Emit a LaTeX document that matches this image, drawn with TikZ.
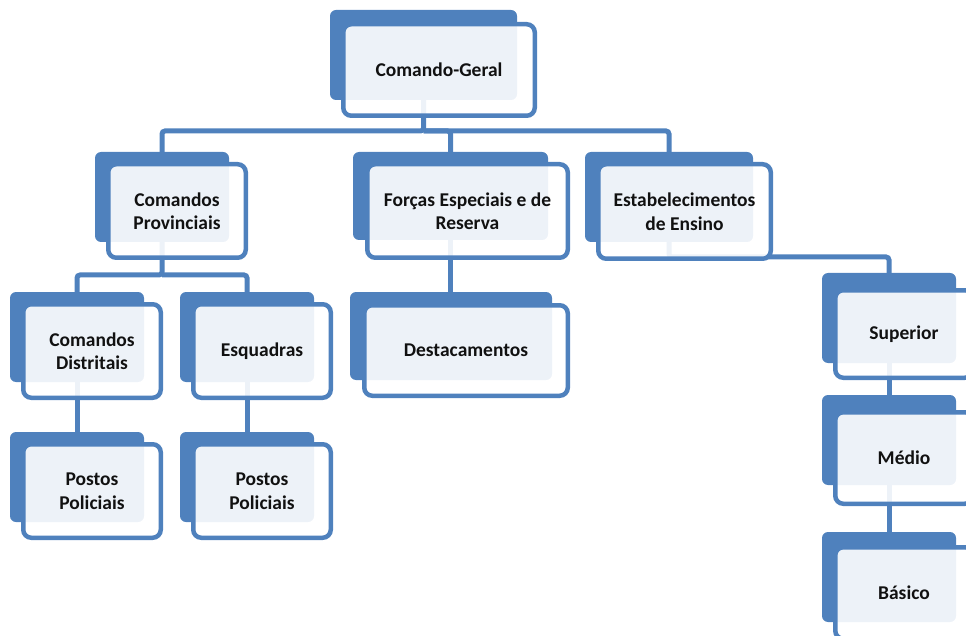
\documentclass[tikz,border=0pt]{standalone}
\usepackage{fontspec}
\setmainfont{Carlito}
\definecolor{ob}{HTML}{4F81BD}
\definecolor{tx}{HTML}{111111}
\pgfdeclarelayer{bg}
\pgfsetlayers{bg,main}
\begin{document}
\begin{tikzpicture}[x=1pt,y=-1pt,
  conn/.style={draw=ob, line width=5pt, rounded corners=3pt},
  backbox/.style={rectangle, fill=ob, rounded corners=6pt, inner sep=0pt},
  frontbox/.style={rectangle, draw=ob, line width=4.5pt, fill=white, fill opacity=0.9, draw opacity=1, text opacity=1, rounded corners=8pt, inner sep=0pt, align=center, text=tx, font=\bfseries\fontsize{19.5}{23.5}\selectfont},
  sback/.style={backbox, minimum width=134pt, minimum height=90pt},
  sfront/.style={frontbox, minimum width=137.5pt, minimum height=93.5pt}
]
\useasboundingbox (0,0) rectangle (966,636);
\clip (0,0) rectangle (966,636);

% Comando-Geral
\node[backbox, minimum width=187pt, minimum height=90pt] (cgB) at (423.5,55) {};
\node[frontbox, minimum width=191.5pt, minimum height=91.5pt] (cg) at (439,70) {Comando-Geral};

% Comandos Provinciais
\node[sback] (cpB) at (162,197) {};
\node[sfront] (cp) at (177,211) {Comandos\\Provinciais};

% Forcas Especiais
\node[backbox, minimum width=195pt, minimum height=88pt] (fsB) at (450.5,196) {};
\node[frontbox, minimum width=200.5pt, minimum height=93.5pt] (fs) at (467.5,211) {Forças Especiais e de\\Reserva};

% Estabelecimentos
\node[backbox, minimum width=168pt, minimum height=90pt] (esB) at (669,197) {};
\node[frontbox, minimum width=172.5pt, minimum height=94.5pt] (es) at (684.5,211.5) {Estabelecimentos\\de Ensino};

% Comandos Distritais
\node[sback] (cdB) at (77,337) {};
\node[sfront] (cd) at (92,351) {Comandos\\Distritais};

% Esquadras
\node[sback] (eqB) at (247,337) {};
\node[sfront] (eq) at (262,351) {Esquadras};

% Postos Policiais
\node[sback] (p1B) at (77,477) {};
\node[sfront] (p1) at (92,491) {Postos\\Policiais};
\node[sback] (p2B) at (247,477) {};
\node[sfront] (p2) at (262,491) {Postos\\Policiais};

% Destacamentos
\node[backbox, minimum width=202pt, minimum height=88pt] (dtB) at (451,336) {};
\node[frontbox, minimum width=203.5pt, minimum height=90.5pt] (dt) at (466,350.5) {Destacamentos};

% Superior, Medio, Basico
\node[sback] (suB) at (889,318) {};
\node[frontbox, minimum width=137.5pt, minimum height=87.5pt] (su) at (904,334) {Superior};
\node[sback] (meB) at (889,440) {};
\node[frontbox, minimum width=137.5pt, minimum height=91.5pt] (me) at (904,458) {Médio};
\node[sback] (baB) at (889,577) {};
\node[frontbox, minimum width=137.5pt, minimum height=91.5pt] (ba) at (904,593) {Básico};

% connectors
\coordinate (b1) at (423.5,131);
\coordinate (b2) at (162,275);
\coordinate (b3) at (669,257);
\begin{pgfonlayer}{bg}
\draw[conn] (cgB.center) -- (b1) -| (cpB.center);
\draw[conn] (b1) -| (fsB.center);
\draw[conn] (b1) -| (esB.center);
\draw[conn] (cpB.center) -- (b2) -| (cdB.center);
\draw[conn] (b2) -| (eqB.center);
\draw[conn] (cdB.center) -- (p1B.center);
\draw[conn] (eqB.center) -- (p2B.center);
\draw[conn] (fsB.center) -- (fsB.center |- dtB.center);
\draw[conn] (esB.center) -- (b3) -| (suB.center);
\draw[conn] (suB.center) -- (meB.center);
\draw[conn] (meB.center) -- (baB.center);
\end{pgfonlayer}
\end{tikzpicture}
\end{document}
